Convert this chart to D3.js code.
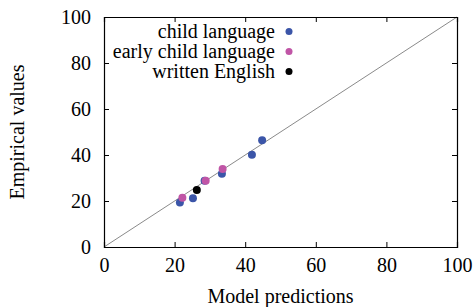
<!DOCTYPE html>
<html>
<head>
<meta charset="utf-8">
<script src="https://cdn.jsdelivr.net/npm/d3@7"></script>
<style>
  body { margin: 0; background: #fff; }
</style>
</head>
<body>
<div id="chart"></div>
<script>
// series data (model prediction, empirical value)
var seriesNames = ["child language", "early child language", "written English"];
var seriesColors = ["#3b55a8", "#c055a6", "#000000"];

var childX = [21.5, 25.2, 28.5, 33.4, 41.9, 44.8];
var childY = [19.3, 21.2, 28.8, 31.9, 40.1, 46.4];

var earlyX = [22.2, 28.8, 33.6];
var earlyY = [21.4, 28.8, 33.9];

var writtenX = [26.3];
var writtenY = [24.8];

var tickValues = [0, 20, 40, 60, 80, 100];

var serif = "'Liberation Serif'";

var margin = { top: 17, right: 18, bottom: 60, left: 104 },
    width = 475 - margin.left - margin.right,
    height = 307 - margin.top - margin.bottom;

var svg = d3.select("#chart")
    .append("svg")
    .attr("width", 475)
    .attr("height", 307)
    .append("g")
    .attr("transform", "translate(" + margin.left + "," + margin.top + ")");

var x = d3.scaleLinear().domain([0, 100]).range([0, width]);
var y = d3.scaleLinear().domain([0, 100]).range([height, 0]);

// diagonal reference line
svg.append("line")
    .attr("x1", x(0)).attr("y1", y(0))
    .attr("x2", x(100)).attr("y2", y(100))
    .style("stroke", "#8a8a8a")
    .style("stroke-width", 1);

// axes with inward ticks
var xAxisB = svg.append("g")
    .attr("transform", "translate(0," + height + ")")
    .call(d3.axisBottom(x).tickValues(tickValues).tickSize(-5).tickPadding(9));
var yAxisL = svg.append("g")
    .call(d3.axisLeft(y).tickValues(tickValues).tickSize(-5).tickPadding(13));
var xAxisT = svg.append("g")
    .call(d3.axisTop(x).tickValues(tickValues).tickSize(-5).tickFormat(""));
var yAxisR = svg.append("g")
    .attr("transform", "translate(" + width + ",0)")
    .call(d3.axisRight(y).tickValues(tickValues).tickSize(-5).tickFormat(""));

[xAxisB, yAxisL, xAxisT, yAxisR].forEach(function (g) {
    g.attr("font-family", null).attr("font-size", null);
    g.selectAll("path").style("stroke", "#000").style("stroke-width", 1.2);
    g.selectAll("line").style("stroke", "#000");
    g.selectAll("text")
        .style("font-family", serif)
        .style("font-size", "20px")
        .style("fill", "#000");
});
xAxisB.selectAll("text").attr("dy", "0.8em");

// points
var groups = [
    { x: childX, y: childY, c: seriesColors[0] },
    { x: earlyX, y: earlyY, c: seriesColors[1] },
    { x: writtenX, y: writtenY, c: seriesColors[2] }
];
groups.forEach(function (g) {
    svg.selectAll(null)
        .data(g.x)
        .enter()
        .append("circle")
        .attr("cx", function (d) { return x(d); })
        .attr("cy", function (d, i) { return y(g.y[i]); })
        .attr("r", 4)
        .style("fill", g.c);
});

// legend
var legend = svg.append("g");
seriesNames.forEach(function (name, i) {
    legend.append("text")
        .attr("x", 171)
        .attr("y", 14.5 + i * 20)
        .attr("dy", "0.32em")
        .attr("text-anchor", "end")
        .style("font-family", serif)
        .style("font-size", "20px")
        .text(name);
    legend.append("circle")
        .attr("cx", 185)
        .attr("cy", 14.5 + i * 20)
        .attr("r", 3.5)
        .style("fill", seriesColors[i]);
});

// axis labels
svg.append("text")
    .attr("text-anchor", "middle")
    .attr("x", width / 2)
    .attr("y", height + 56)
    .style("font-family", serif)
    .style("font-size", "20px")
    .text("Model predictions");

svg.append("text")
    .attr("text-anchor", "middle")
    .attr("transform", "rotate(-90)")
    .attr("x", -height / 2)
    .attr("y", -margin.left + 24)
    .style("font-family", serif)
    .style("font-size", "20px")
    .text("Empirical values");
</script>
</body>
</html>
